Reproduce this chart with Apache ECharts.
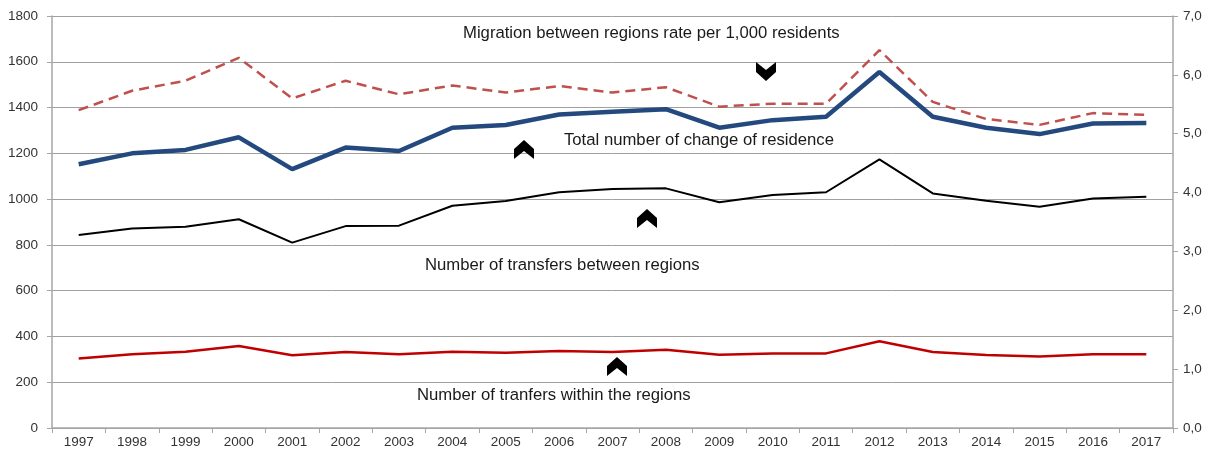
<!DOCTYPE html>
<html>
<head>
<meta charset="utf-8">
<title>Migration</title>
<script src="https://cdn.jsdelivr.net/npm/echarts@6/dist/echarts.min.js"></script>
<style>
  html, body { margin: 0; padding: 0; background: #fff; }
  #main { width: 1215px; height: 455px; }
</style>
</head>
<body>
<div id="main"></div>
<script>
// years on the x axis
var years = ['1997','1998','1999','2000','2001','2002','2003','2004','2005','2006','2007',
             '2008','2009','2010','2011','2012','2013','2014','2015','2016','2017'];
// total number of change of residence (left axis)
var totalChange = [1152,1200,1215,1270,1131,1225,1210,1312,1324,1370,1382,1393,1312,1345,1360,1555,1360,1312,1284,1330,1332];
// number of transfers between regions (left axis)
var betweenRegions = [843,872,879,912,810,882,884,971,992,1030,1044,1047,986,1018,1030,1174,1025,993,967,1003,1010];
// number of transfers within the regions (left axis)
var withinRegions = [304,322,333,358,318,332,322,333,329,336,332,342,320,325,326,379,332,319,312,322,322];
// migration between regions rate per 1,000 residents (right axis)
var migrationRate = [5.40,5.73,5.90,6.29,5.60,5.90,5.67,5.82,5.70,5.81,5.70,5.79,5.46,5.51,5.51,6.42,5.54,5.25,5.15,5.35,5.32];

var font = 'Liberation Sans, Arial, sans-serif';
var axisGrey = '#a6a6a6';

// little chevron arrows used as annotations
function chevron(cx, top, down) {
    var pts = down
        ? [[0,0],[10,8],[20,0],[20,10],[10,19],[0,10]]
        : [[0,9],[10,0],[20,9],[20,19],[10,11],[0,19]];
    return {
        type: 'polygon',
        x: cx - 10, y: top,
        shape: { points: pts },
        style: { fill: '#000' },
        z: 100
    };
}
function note(txt, x, y) {
    return {
        type: 'text', x: x, y: y, z: 100,
        style: { text: txt, font: '16.7px ' + font, fill: '#1a1a1a', textVerticalAlign: 'middle' }
    };
}

var myChart = echarts.init(document.getElementById('main'));
var option = {
    animation: false,
    backgroundColor: '#fff',
    grid: { left: 52, right: 42, top: 16, bottom: 27 },
    xAxis: {
        type: 'category',
        data: years,
        boundaryGap: true,
        axisLine: { lineStyle: { color: axisGrey, width: 1.5 } },
        axisTick: { show: true, length: 5, lineStyle: { color: axisGrey } },
        axisLabel: { color: '#333', fontFamily: font, fontSize: 13.5, margin: 7 }
    },
    yAxis: [
        {
            type: 'value', min: 0, max: 1800, interval: 200,
            axisLine: { show: true, lineStyle: { color: axisGrey, width: 1.5 } },
            axisTick: { show: true, length: 5, lineStyle: { color: axisGrey } },
            axisLabel: {
                color: '#333', fontFamily: font, fontSize: 13.5, margin: 14,
                formatter: function (v) { return String(v); }
            },
            splitLine: { lineStyle: { color: '#a0a0a0', width: 1 } }
        },
        {
            type: 'value', min: 0, max: 7, interval: 1, position: 'right',
            axisLine: { show: true, lineStyle: { color: axisGrey, width: 1.5 } },
            axisTick: { show: true, length: 5, lineStyle: { color: axisGrey } },
            axisLabel: {
                color: '#333', fontFamily: font, fontSize: 13.5, margin: 10,
                formatter: function (v) { return v.toFixed(1).replace('.', ','); }
            },
            splitLine: { show: false }
        }
    ],
    series: [
        {
            name: 'Migration between regions rate per 1,000 residents',
            type: 'line', yAxisIndex: 1, data: migrationRate,
            symbol: 'none',
            lineStyle: { color: '#c0504d', width: 2.5, type: [10, 6] }
        },
        {
            name: 'Total number of change of residence',
            type: 'line', data: totalChange, symbol: 'none',
            lineStyle: { color: '#23497f', width: 4.5 }
        },
        {
            name: 'Number of transfers between regions',
            type: 'line', data: betweenRegions, symbol: 'none',
            lineStyle: { color: '#000', width: 2 }
        },
        {
            name: 'Number of tranfers within the regions',
            type: 'line', data: withinRegions, symbol: 'none',
            lineStyle: { color: '#c00000', width: 2.5 }
        }
    ],
    graphic: [
        note('Migration between regions rate per 1,000 residents', 463, 33),
        note('Total number of change of residence', 564, 140),
        note('Number of transfers between regions', 425, 265),
        note('Number of tranfers within the regions', 417, 395),
        chevron(766, 62, true),
        chevron(524, 140, false),
        chevron(647, 209, false),
        chevron(617, 357, false)
    ]
};
myChart.setOption(option);
</script>
</body>
</html>
